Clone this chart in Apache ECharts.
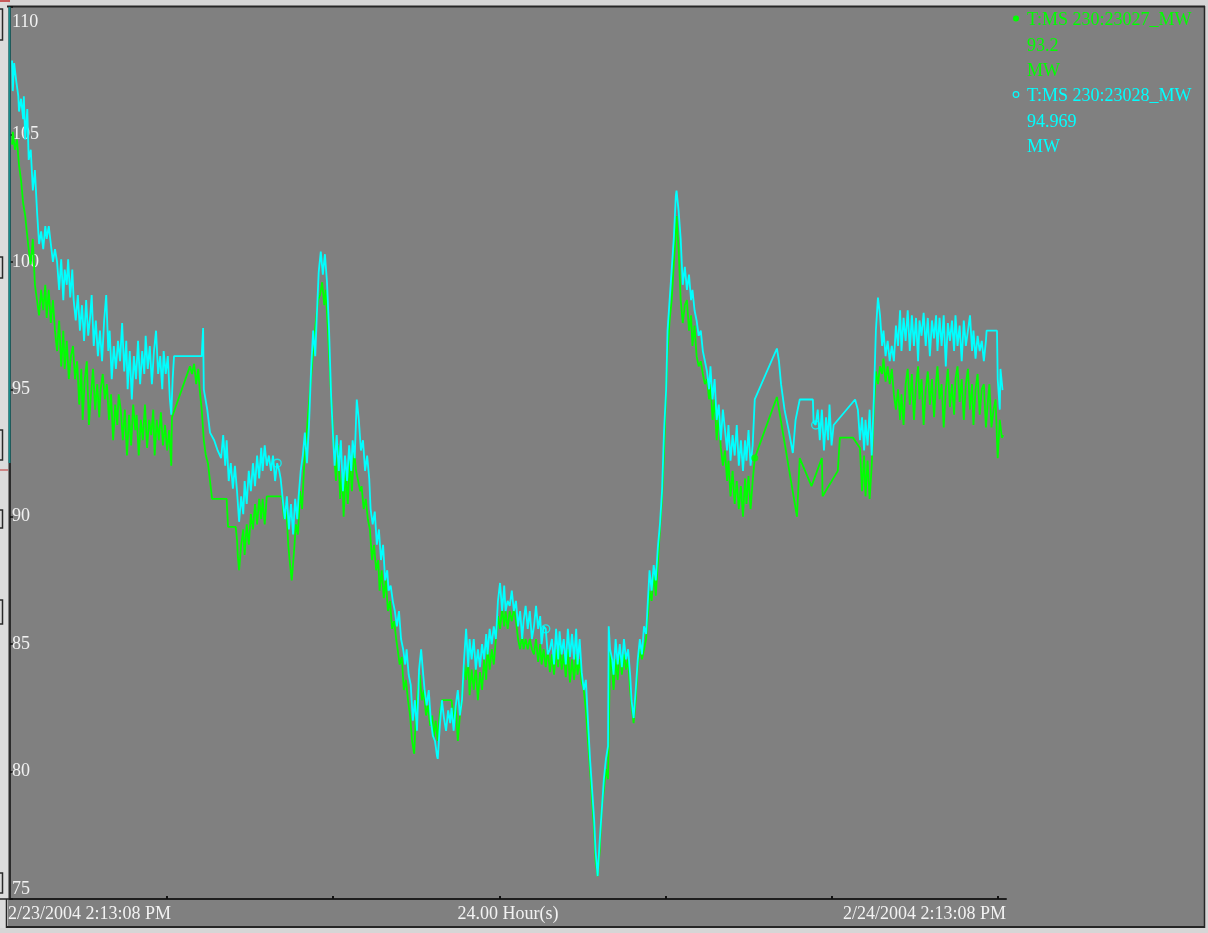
<!DOCTYPE html>
<html>
<head>
<meta charset="utf-8">
<script src="https://cdn.jsdelivr.net/npm/echarts@6/dist/echarts.min.js"></script>
<style>
  html, body { margin: 0; padding: 0; background: #808080; overflow: hidden; }
  #chart { width: 1208px; height: 933px; }
</style>
</head>
<body>
<div id="chart"></div>
<script>
// Tag names and unit shown in the legend panel
const seriesNames = ['T:MS 230:23027_MW', 'T:MS 230:23028_MW'];
const unitLabel = 'MW';

// Time axis: minutes since 2/23/2004 2:13:08 PM
const xRange = [13, 1452];
const xTickMinutes = [240, 480, 720, 960, 1200, 1440];
const xTickLabels = ['2/23/2004 2:13:08 PM', '24.00 Hour(s)', '2/24/2004 2:13:08 PM'];
const yTickValues = [75, 80, 85, 90, 95, 100, 105, 110];

// T:MS 230:23027_MW  [minute, MW]
const mw23027 = [[16,104.6],[17,105.1],[20,104.4],[23,104.8],[26,103.8],[29,103.2],[32,102.3],[35,101.8],[38,101.0],[40,100.5],[43,99.9],[46,100.9],[49,99.1],[52,98.5],[55,97.9],[58,98.9],[61,98.1],[64,99.1],[66,97.8],[69,98.9],[72,97.6],[75,98.5],[78,97.3],[81,96.5],[84,97.7],[87,95.9],[90,97.3],[92,95.8],[95,96.9],[98,95.4],[101,96.3],[104,96.7],[107,95.4],[110,96.1],[113,94.4],[116,95.8],[118,93.8],[121,95.4],[124,96.1],[127,93.6],[130,94.8],[133,95.8],[136,94.2],[139,95.2],[142,93.9],[144,95.0],[147,95.6],[150,94.6],[153,95.2],[156,93.8],[159,94.8],[162,93.0],[165,94.4],[168,93.6],[170,94.8],[173,94.2],[176,93.0],[179,94.2],[182,92.4],[185,94.0],[188,92.8],[191,94.4],[194,93.4],[196,94.0],[199,92.4],[202,93.8],[205,93.0],[208,94.4],[211,92.7],[214,93.8],[217,93.2],[220,94.2],[222,92.4],[225,93.8],[228,93.0],[231,94.1],[234,92.8],[237,93.6],[240,92.6],[243,93.4],[246,92.0],[247,93.9],[273,95.9],[276,95.6],[279,96.0],[282,95.2],[285,95.8],[287,95.0],[290,94.2],[293,93.0],[296,92.4],[299,92.1],[302,91.4],[305,90.7],[326,90.7],[328,89.6],[339,89.6],[341,89.1],[342,88.5],[344,87.9],[347,88.9],[350,89.5],[352,88.5],[355,89.7],[358,88.9],[361,90.1],[364,89.5],[367,90.5],[370,89.7],[373,90.7],[376,89.9],[378,90.7],[381,89.7],[384,90.8],[406,90.8],[409,89.9],[412,90.5],[415,88.9],[417,88.3],[420,87.5],[423,88.5],[426,89.7],[429,89.3],[432,91.0],[435,90.3],[438,92.0],[441,93.0],[443,93.8],[446,94.8],[449,95.8],[452,96.9],[455,97.7],[458,98.5],[461,98.7],[464,99.2],[467,98.3],[469,98.9],[472,97.5],[475,95.8],[478,94.2],[481,92.6],[484,91.4],[487,92.8],[490,90.7],[493,91.8],[495,90.0],[498,91.8],[501,90.5],[504,92.2],[507,91.0],[510,92.6],[513,91.8],[516,91.4],[519,91.0],[521,91.2],[524,90.3],[527,90.7],[530,89.9],[533,89.5],[536,88.3],[539,88.9],[542,87.9],[545,88.3],[547,87.1],[550,87.9],[553,86.8],[556,87.5],[559,86.3],[562,86.7],[565,85.6],[568,85.9],[571,85.2],[573,84.8],[576,84.2],[579,84.5],[582,83.2],[585,83.6],[588,82.8],[591,82.2],[594,81.2],[597,80.7],[599,82.0],[602,83.2],[605,83.8],[608,82.8],[611,83.2],[614,82.2],[617,82.6],[620,81.8],[623,82.2],[625,81.3],[628,82.0],[631,81.2],[634,82.3],[637,82.8],[651,82.8],[654,82.0],[657,82.6],[660,81.2],[663,82.2],[666,82.8],[669,84.2],[672,83.6],[675,84.4],[677,83.0],[680,84.0],[683,83.2],[686,84.1],[689,82.8],[692,83.9],[695,83.2],[698,84.4],[701,83.6],[703,85.0],[706,84.0],[709,84.8],[712,84.2],[715,85.2],[718,86.1],[721,85.6],[724,86.4],[727,85.7],[729,86.3],[732,85.6],[735,86.3],[738,85.9],[741,86.4],[744,85.9],[747,85.2],[750,84.8],[753,85.4],[755,84.8],[758,85.2],[761,84.8],[764,85.2],[767,84.8],[770,84.6],[773,85.2],[776,84.3],[779,85.0],[781,84.2],[784,84.8],[787,84.1],[790,84.8],[793,83.9],[796,84.6],[799,83.8],[802,84.8],[805,84.1],[807,85.0],[810,84.0],[813,84.6],[816,83.7],[819,84.8],[822,83.5],[825,84.4],[828,83.6],[831,84.6],[833,83.8],[836,84.4],[839,83.5],[842,83.2],[845,82.4],[848,81.2],[851,80.1],[854,78.9],[857,77.7],[859,76.5],[862,75.9],[865,76.9],[868,78.6],[871,79.3],[874,80.1],[877,79.7],[880,84.8],[883,83.9],[885,83.2],[888,84.4],[891,83.6],[894,84.8],[897,83.8],[900,84.6],[903,84.0],[906,84.4],[909,83.2],[911,82.6],[914,81.9],[917,82.8],[920,84.2],[923,84.8],[926,84.4],[929,84.8],[932,85.2],[935,86.3],[937,87.1],[940,86.7],[943,87.9],[946,86.9],[949,88.2],[952,89.5],[955,90.7],[958,92.6],[961,95.0],[963,96.5],[966,97.7],[969,98.5],[972,99.9],[975,101.2],[976,101.8],[979,100.5],[982,98.5],[985,97.6],[988,98.3],[991,98.5],[994,97.3],[997,97.9],[999,96.7],[1002,97.5],[1005,96.3],[1008,95.9],[1011,96.1],[1014,95.6],[1017,95.2],[1020,95.4],[1023,94.6],[1025,95.2],[1028,93.8],[1031,94.6],[1034,93.0],[1037,94.0],[1040,92.7],[1043,92.0],[1046,92.6],[1049,91.4],[1051,92.2],[1054,90.8],[1057,91.8],[1060,90.5],[1063,91.4],[1066,90.3],[1069,91.2],[1072,90.0],[1075,91.5],[1077,90.5],[1080,91.6],[1083,90.3],[1086,91.4],[1089,92.3],[1121,94.7],[1150,90.0],[1154,92.3],[1171,91.2],[1186,92.3],[1187,90.8],[1209,91.8],[1212,93.1],[1231,93.1],[1241,92.7],[1244,91.0],[1247,92.4],[1249,90.8],[1252,92.2],[1255,90.7],[1258,92.0],[1261,94.2],[1264,95.7],[1267,95.2],[1270,95.9],[1273,95.6],[1275,96.2],[1278,95.3],[1281,95.9],[1284,95.2],[1287,95.8],[1290,94.8],[1293,94.2],[1296,95.0],[1299,93.8],[1301,94.8],[1304,93.6],[1307,95.2],[1310,95.8],[1313,94.4],[1316,95.6],[1319,93.8],[1322,95.2],[1325,95.9],[1327,94.6],[1330,95.4],[1333,93.6],[1336,95.0],[1339,95.7],[1342,94.4],[1345,95.4],[1348,93.9],[1351,95.3],[1353,95.9],[1356,94.6],[1359,95.2],[1362,93.5],[1365,95.0],[1368,95.8],[1371,94.3],[1374,95.2],[1377,94.0],[1379,95.4],[1382,95.9],[1385,94.5],[1388,95.4],[1391,93.8],[1394,95.2],[1397,95.8],[1400,94.2],[1403,95.2],[1405,93.6],[1408,95.0],[1411,95.6],[1414,94.0],[1417,95.0],[1420,95.2],[1423,93.5],[1426,94.6],[1428,95.2],[1431,93.5],[1434,94.2],[1437,94.6],[1439,93.0],[1440,92.3],[1443,93.8],[1446,93.1],[1448,93.2]];

// T:MS 230:23028_MW  [minute, MW]
const mw23028 = [[16,107.9],[17,106.7],[19,107.8],[22,107.1],[25,106.5],[26,105.9],[29,106.4],[32,105.6],[33,106.5],[35,104.8],[38,106.0],[40,104.0],[43,104.4],[46,102.8],[49,103.6],[52,102.0],[55,100.7],[58,101.2],[61,100.5],[64,101.4],[66,100.9],[69,101.4],[72,100.7],[75,100.0],[78,100.5],[81,100.0],[84,98.9],[87,100.1],[90,98.5],[92,99.7],[95,99.1],[97,100.1],[100,98.6],[103,99.7],[105,98.5],[108,97.7],[111,98.7],[114,97.3],[117,98.3],[120,96.9],[123,98.5],[126,97.1],[129,97.9],[131,98.7],[134,96.7],[137,97.7],[140,96.3],[143,97.3],[146,96.1],[149,97.7],[152,98.7],[155,96.5],[157,97.3],[160,95.4],[163,96.7],[166,95.8],[169,96.9],[172,96.1],[175,97.6],[178,95.7],[181,96.9],[183,95.0],[186,96.5],[189,94.6],[192,96.3],[195,95.4],[198,96.9],[201,95.2],[204,96.5],[207,95.6],[209,97.1],[212,95.8],[215,96.7],[218,95.2],[221,96.5],[224,97.3],[227,95.6],[230,96.3],[233,95.0],[235,96.5],[238,95.6],[241,96.3],[244,94.6],[246,94.0],[248,95.4],[250,96.3],[290,96.3],[292,97.4],[293,95.0],[298,94.2],[302,93.3],[308,93.0],[313,92.6],[318,92.3],[321,93.2],[324,92.0],[326,93.0],[329,91.4],[332,92.1],[335,91.1],[338,92.0],[341,91.0],[344,89.8],[347,90.8],[350,90.1],[352,91.4],[355,90.5],[358,91.8],[361,91.0],[364,92.1],[367,91.2],[370,92.4],[373,91.5],[376,92.7],[378,91.8],[381,92.8],[384,92.0],[387,92.4],[390,91.8],[393,92.4],[396,91.4],[399,92.1],[402,91.8],[404,91.5],[407,90.7],[410,89.9],[413,90.8],[416,89.5],[419,90.5],[422,89.3],[425,90.7],[428,89.9],[430,90.8],[433,91.8],[436,92.4],[439,93.3],[442,92.1],[445,93.6],[448,95.8],[451,97.3],[454,96.3],[456,97.7],[459,99.6],[462,100.4],[465,99.5],[468,100.3],[471,99.2],[474,97.3],[477,94.7],[480,93.0],[482,92.0],[485,93.2],[488,91.8],[491,93.0],[494,91.0],[497,92.4],[500,91.4],[503,92.8],[506,91.8],[508,93.0],[511,92.3],[514,94.6],[517,93.8],[520,92.6],[523,93.0],[526,91.8],[529,92.4],[532,91.5],[534,90.3],[537,89.7],[540,90.2],[543,88.9],[546,89.5],[549,88.3],[552,88.9],[555,87.5],[558,87.9],[560,87.1],[563,87.3],[566,86.7],[569,86.3],[572,85.7],[575,86.3],[578,85.2],[581,84.8],[584,84.2],[586,84.8],[589,83.8],[592,83.4],[595,82.0],[598,82.8],[601,81.6],[604,84.0],[607,84.8],[610,83.8],[612,83.2],[615,82.6],[618,83.2],[621,82.0],[624,81.4],[627,81.2],[630,80.6],[631,80.5],[634,81.8],[637,82.8],[640,82.1],[643,81.6],[646,82.4],[649,81.9],[651,82.5],[654,81.6],[657,82.6],[660,83.2],[663,82.2],[666,82.8],[669,84.4],[672,85.6],[675,84.1],[677,85.2],[680,84.4],[683,85.2],[686,84.0],[689,84.8],[692,84.1],[695,85.0],[698,84.4],[701,85.4],[703,84.6],[706,85.6],[709,85.0],[712,85.7],[715,85.2],[718,86.7],[721,87.4],[724,86.3],[727,87.3],[729,86.3],[732,86.7],[735,86.5],[738,87.1],[741,86.3],[744,86.7],[747,85.7],[750,86.3],[753,85.2],[755,85.9],[758,86.5],[761,85.6],[764,86.3],[767,85.2],[770,85.7],[773,86.5],[776,85.6],[779,86.1],[781,85.0],[784,85.7],[787,85.6],[790,84.6],[793,84.8],[796,85.2],[799,84.2],[802,85.6],[805,84.4],[807,85.5],[810,84.6],[813,85.2],[816,84.2],[819,85.6],[822,84.5],[825,85.4],[828,84.4],[831,85.6],[833,84.2],[836,85.2],[839,83.9],[842,83.2],[845,83.6],[848,82.0],[851,80.5],[854,79.3],[857,78.1],[859,76.9],[862,75.9],[865,77.3],[868,78.5],[871,79.7],[874,80.5],[877,81.0],[878,85.7],[880,84.8],[883,84.4],[885,83.8],[888,85.2],[891,84.2],[894,85.0],[897,84.1],[900,85.2],[903,84.4],[906,84.8],[909,83.8],[911,82.8],[914,82.1],[917,83.2],[920,84.4],[923,85.2],[926,84.6],[929,85.7],[932,85.4],[935,86.9],[937,87.9],[940,87.1],[943,88.1],[946,87.5],[949,88.8],[952,89.7],[955,91.0],[958,93.4],[961,95.0],[963,97.3],[966,98.5],[969,99.7],[972,100.9],[975,102.6],[976,102.8],[979,102.0],[982,100.9],[985,99.1],[988,99.8],[991,98.9],[994,99.5],[997,98.5],[999,98.9],[1002,98.1],[1005,97.7],[1008,97.1],[1011,97.3],[1014,96.5],[1017,96.1],[1020,95.7],[1023,95.0],[1025,95.9],[1028,94.6],[1031,95.4],[1034,93.8],[1037,94.4],[1040,93.0],[1043,94.2],[1046,93.4],[1049,92.6],[1051,93.6],[1054,92.2],[1057,93.2],[1060,92.4],[1063,93.6],[1066,92.0],[1069,93.0],[1072,91.8],[1075,93.0],[1077,92.2],[1080,93.4],[1083,92.0],[1086,92.8],[1089,94.6],[1121,96.6],[1124,96.1],[1127,95.2],[1132,94.2],[1138,93.4],[1144,92.5],[1148,93.8],[1154,94.6],[1173,94.6],[1174,93.7],[1177,93.6],[1180,94.2],[1183,93.0],[1186,94.2],[1189,92.6],[1192,93.9],[1195,93.0],[1197,94.4],[1200,92.8],[1203,93.6],[1234,94.6],[1238,94.2],[1241,93.0],[1244,93.9],[1247,92.6],[1249,93.8],[1252,92.8],[1255,94.2],[1258,92.4],[1261,94.6],[1264,97.3],[1267,98.6],[1270,97.9],[1273,96.7],[1275,97.3],[1278,96.3],[1281,96.9],[1284,96.1],[1287,96.7],[1290,96.1],[1293,97.5],[1296,96.7],[1299,98.1],[1301,96.5],[1304,97.8],[1307,96.9],[1310,98.1],[1313,96.5],[1316,97.9],[1319,96.7],[1322,97.8],[1325,96.1],[1327,97.7],[1330,97.1],[1333,98.0],[1336,96.7],[1339,97.8],[1342,96.3],[1345,97.7],[1348,97.0],[1351,97.9],[1353,96.5],[1356,97.8],[1359,96.7],[1362,97.9],[1365,95.9],[1368,97.6],[1371,96.9],[1374,97.7],[1377,96.5],[1379,97.9],[1382,96.7],[1385,97.5],[1388,96.1],[1391,97.7],[1394,96.7],[1397,97.3],[1400,97.9],[1403,96.5],[1405,97.3],[1408,96.2],[1411,97.1],[1414,96.5],[1417,96.9],[1420,96.1],[1423,96.9],[1424,97.3],[1439,97.3],[1440,95.4],[1443,94.2],[1444,95.8],[1447,94.969]];

// Sample minutes that carry the trend point marker
const markers23027 = [1089];
const markers23028 = [399, 787, 1177];

const GREEN = '#00ff00';
const CYAN = '#00ffff';
const FONT = '"Liberation Serif", "DejaVu Serif", serif';
const gridLeft = 10, gridRight = 202, gridTop = 7, gridBottom = 34;

const chart = echarts.init(document.getElementById('chart'), null, { renderer: 'canvas' });

function pick(data, minutes) {
  return data.filter(p => minutes.indexOf(p[0]) >= 0);
}
function nearestTick(v) {
  let best = yTickValues[0];
  yTickValues.forEach(t => { if (Math.abs(t - v) < Math.abs(best - v)) best = t; });
  return best;
}
// end labels sit just inside the plot
const yLabelAt = yTickValues.map((v, i) =>
  i === 0 ? v + 0.4 : (i === yTickValues.length - 1 ? v - 0.6 : v));

const lastValue = d => d[d.length - 1][1];

// window frame around the trend area
const frame = [
  { type: 'rect', shape: { x: 0, y: 0, width: 1208, height: 6 }, style: { fill: '#d6d6d6' }, silent: true },
  { type: 'rect', shape: { x: 0, y: 0, width: 8, height: 933 }, style: { fill: '#dcdcdc' }, silent: true },
  { type: 'rect', shape: { x: 0, y: 928, width: 1208, height: 5 }, style: { fill: '#d6d6d6' }, silent: true },
  { type: 'rect', shape: { x: 1205, y: 0, width: 3, height: 933 }, style: { fill: '#d6d6d6' }, silent: true },
  { type: 'line', shape: { x1: 7, y1: 6.5, x2: 1205, y2: 6.5 }, style: { stroke: '#262626', lineWidth: 2 }, silent: true },
  { type: 'line', shape: { x1: 6, y1: 927, x2: 1205, y2: 927 }, style: { stroke: '#262626', lineWidth: 2 }, silent: true },
  { type: 'line', shape: { x1: 1204.5, y1: 6, x2: 1204.5, y2: 928 }, style: { stroke: '#262626', lineWidth: 1.5 }, silent: true },
  { type: 'line', shape: { x1: 6.5, y1: 899, x2: 6.5, y2: 928 }, style: { stroke: '#262626', lineWidth: 1.5 }, silent: true },
  { type: 'line', shape: { x1: 0, y1: 899, x2: 10, y2: 899 }, style: { stroke: '#262626', lineWidth: 1.5 }, silent: true },
  { type: 'line', shape: { x1: 9.5, y1: 7, x2: 9.5, y2: 463 }, style: { stroke: '#178c8c', lineWidth: 2 }, silent: true, z: 100 },
  { type: 'line', shape: { x1: 0, y1: 1, x2: 10, y2: 1 }, style: { stroke: '#c03030', lineWidth: 1.5 }, silent: true },
  { type: 'line', shape: { x1: 0, y1: 470, x2: 8, y2: 470 }, style: { stroke: '#c03030', lineWidth: 1 }, silent: true }
];
// small bracket marks along the left edge
[[9, 40], [257, 278], [430, 460], [510, 528], [600, 624], [873, 893]].forEach(([a, b]) => {
  frame.push({ type: 'polyline', shape: { points: [[0, a], [2.5, a], [2.5, b], [0, b]] },
    style: { stroke: '#2a2a2a', lineWidth: 1.5, fill: null }, silent: true });
});

// legend panel: marker, tag name, current value, unit
const legendRows = [];
const legendSeries = [
  { name: seriesNames[0], color: GREEN, value: String(lastValue(mw23027)), hollow: false },
  { name: seriesNames[1], color: CYAN, value: String(lastValue(mw23028)), hollow: true }
];
legendSeries.forEach((s, k) => {
  const y0 = 20.5 + k * 76;
  legendRows.push({
    type: 'circle', shape: { cx: 1016, cy: y0 - 2, r: s.hollow ? 2.8 : 3 },
    style: s.hollow ? { fill: null, stroke: s.color, lineWidth: 1.2 } : { fill: s.color }, silent: true
  });
  [s.name, s.value, unitLabel].forEach((txt, j) => {
    legendRows.push({
      type: 'text', silent: true,
      style: { x: 1027, y: y0 + j * 25.4, text: txt, fill: s.color, font: '18px ' + FONT,
               verticalAlign: 'middle', align: 'left' }
    });
  });
});

chart.setOption({
  backgroundColor: '#808080',
  animation: false,
  grid: { left: gridLeft, right: gridRight, top: gridTop, bottom: gridBottom, containLabel: false },
  xAxis: {
    type: 'value', min: xRange[0], max: xRange[1],
    axisLine: { show: true, onZero: false, lineStyle: { color: '#1e1e1e', width: 2 } },
    axisTick: { show: true, inside: true, length: 3, customValues: xTickMinutes,
                lineStyle: { color: '#111', width: 2 } },
    axisLabel: { show: false },
    splitLine: { show: false }
  },
  yAxis: {
    type: 'value', min: 75, max: 110, interval: 5,
    axisLine: { show: true, onZero: false, lineStyle: { color: '#2b2b2b', width: 2 } },
    axisTick: { show: true, inside: true, length: 3, customValues: yTickValues,
                lineStyle: { color: '#111', width: 1.5 } },
    axisLabel: {
      show: true, inside: true, margin: 2, customValues: yLabelAt,
      color: '#f2f2f2', fontFamily: FONT, fontSize: 18,
      formatter: v => String(nearestTick(v))
    },
    splitLine: { show: false }
  },
  series: [
    {
      name: seriesNames[0], type: 'line', data: mw23027, showSymbol: false, symbol: 'none',
      lineStyle: { color: GREEN, width: 1.8 }, itemStyle: { color: GREEN }, z: 2
    },
    {
      name: seriesNames[1], type: 'line', data: mw23028, showSymbol: false, symbol: 'none',
      lineStyle: { color: CYAN, width: 1.8 }, itemStyle: { color: CYAN }, z: 3
    },
    {
      type: 'scatter', data: pick(mw23027, markers23027), symbol: 'circle', symbolSize: 7,
      itemStyle: { color: GREEN }, z: 4, silent: true
    },
    {
      type: 'scatter', data: pick(mw23028, markers23028), symbol: 'circle', symbolSize: 8,
      itemStyle: { color: 'rgba(0,0,0,0)', borderColor: CYAN, borderWidth: 1.4 }, z: 4, silent: true
    }
  ],
  graphic: frame.concat(legendRows)
});

// time labels under the axis: start, span, end
const axisY = chart.convertToPixel({ yAxisIndex: 0 }, 75);
const xStart = chart.convertToPixel({ xAxisIndex: 0 }, xRange[0]);
const xEnd = chart.convertToPixel({ xAxisIndex: 0 }, xRange[1]);
const aligns = ['left', 'center', 'right'];
const xs = [xStart - 2, (xStart + xEnd) / 2, xEnd];
chart.setOption({
  graphic: frame.concat(legendRows).concat(xTickLabels.map((txt, i) => ({
    type: 'text', silent: true,
    style: { x: xs[i], y: axisY + 15, text: txt, fill: '#f2f2f2', font: '18px ' + FONT,
             align: aligns[i], verticalAlign: 'middle' }
  })))
});
</script>
</body>
</html>
